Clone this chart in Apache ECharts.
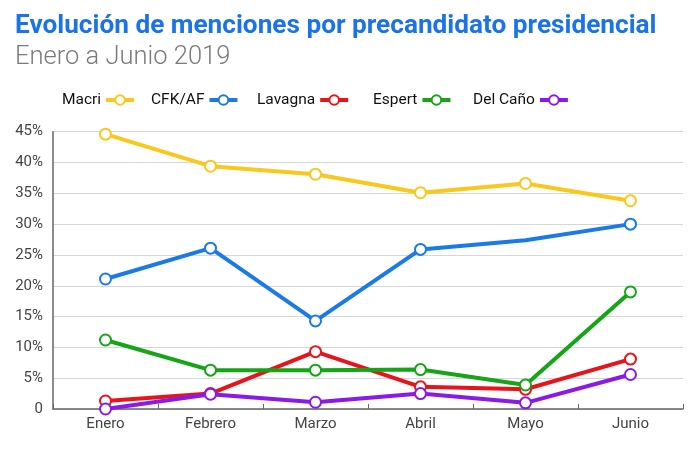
<!DOCTYPE html>
<html><head><meta charset="utf-8">
<script src="https://cdn.jsdelivr.net/npm/echarts@6/dist/echarts.min.js"></script>
<style>html,body{margin:0;padding:0;background:#fff}#c{width:700px;height:461px}</style>
</head><body><div id="c"></div>
<script>
const categories = ['Enero','Febrero','Marzo','Abril','Mayo','Junio'];
const seriesNames = ['Macri','CFK/AF','Lavagna','Espert','Del Caño'];
const macri = [44.6, 39.4, 38.1, 35.1, 36.6, 33.8];
const cfk = [21.1, 26.1, 14.3, 25.9, 27.4, 30.0];
const lavagna = [1.3, 2.5, 9.3, 3.6, 3.2, 8.1];
const espert = [11.2, 6.3, 6.3, 6.4, 3.9, 19.0];
const delcano = [0, 2.4, 1.1, 2.5, 1.0, 5.6];
const yTicks = [0,5,10,15,20,25,30,35,40,45];

const chart = echarts.init(document.getElementById('c'));
function mk(name, data, color, hideIdx) {
  return {
    name, type: 'line', data: data.map((v,i)=> hideIdx===i ? {value:v, symbol:'none'} : v),
    symbol: 'emptyCircle', symbolSize: 11,
    lineStyle: {width: 4, color},
    itemStyle: {color, borderWidth: 3.5, borderColor: color},
    emphasis: {disabled: true}
  };
}
const legendLefts = [57, 146, 252, 368, 468];
chart.setOption({
  animation: false,
  title: {
    text: 'Evolución de menciones por precandidato presidencial',
    subtext: 'Enero a Junio 2019',
    left: 10, top: 8, itemGap: 6,
    textStyle: {fontFamily: 'Roboto', fontWeight: 'bold', fontSize: 26.2, color: '#1a73e8'},
    subtextStyle: {fontFamily: 'Roboto', fontWeight: 300, fontSize: 25.5, color: '#7a7a7a'}
  },
  legend: seriesNames.map((n, i) => ({
    left: legendLefts[i], top: 87, align: 'right', itemWidth: 28, itemHeight: 12,
    lineStyle: {width: 4},
    itemStyle: {borderWidth: 3},
    textStyle: {fontFamily: 'Roboto', fontSize: 15.5, color: '#111'},
    data: [n]
  })),
  grid: {left: 53, right: 17, top: 131.7, bottom: 52},
  xAxis: {
    type: 'category', data: categories, boundaryGap: true,
    axisLine: {lineStyle: {color: '#666', width: 1.5}},
    axisTick: {show: true, length: 5, inside: true, lineStyle: {color: '#666'}},
    axisLabel: {fontFamily: 'Roboto', fontSize: 15, color: '#444', margin: 8}
  },
  yAxis: {
    type: 'value', min: 0, max: 45, interval: 5,
    axisLine: {show: true, lineStyle: {color: '#666', width: 1.5}},
    axisTick: {show: false},
    splitLine: {lineStyle: {color: '#d6d6d6', width: 1}},
    axisLabel: {fontFamily: 'Roboto', fontSize: 15, color: '#444', margin: 10,
      formatter: v => yTicks.includes(v) ? (v === 0 ? '0' : v + '%') : ''}
  },
  series: [
    mk(seriesNames[0], macri, '#f8c81c'),
    mk(seriesNames[1], cfk, '#1a7ae8', 4),
    mk(seriesNames[2], lavagna, '#e8141c'),
    mk(seriesNames[3], espert, '#16a516'),
    mk(seriesNames[4], delcano, '#8a1ae8')
  ]
});
</script></body></html>
